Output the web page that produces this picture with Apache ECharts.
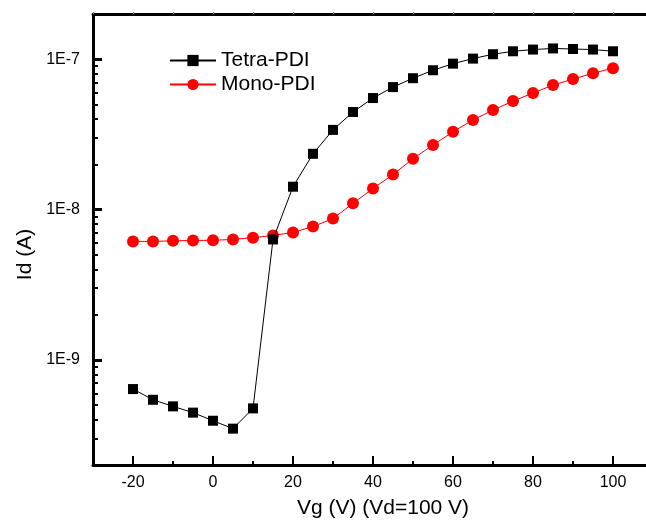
<!DOCTYPE html>
<html>
<head>
<meta charset="utf-8">
<script src="https://cdn.jsdelivr.net/npm/echarts@6/dist/echarts.min.js"></script>
<style>html,body{margin:0;padding:0;background:#fff;}#c{width:646px;height:521px;}</style>
</head>
<body>
<div id="c"></div>
<script>
var vg = [-20,-15,-10,-5,0,5,10,15,20,25,30,35,40,45,50,55,60,65,70,75,80,85,90,95,100];
var tetraPDI = [6.4e-10,5.43e-10,4.91e-10,4.46e-10,3.94e-10,3.49e-10,4.76e-10,6.33e-9,1.42e-8,2.35e-8,3.39e-8,4.46e-8,5.52e-8,6.53e-8,7.48e-8,8.45e-8,9.35e-8,1.01e-7,1.08e-7,1.13e-7,1.16e-7,1.18e-7,1.17e-7,1.16e-7,1.13e-7];
var monoPDI = [6.14e-9,6.14e-9,6.2e-9,6.23e-9,6.25e-9,6.33e-9,6.5e-9,6.73e-9,7.05e-9,7.71e-9,8.71e-9,1.10e-8,1.38e-8,1.71e-8,2.18e-8,2.69e-8,3.29e-8,3.95e-8,4.59e-8,5.27e-8,5.96e-8,6.73e-8,7.38e-8,8.08e-8,8.71e-8];
var xTickLabels = [-20,0,20,40,60,80,100];
var yTickLabels = [1e-9,1e-8,1e-7];
var yMinorTicks = [];
[1e-10,1e-9,1e-8,1e-7].forEach(function(d){
  for (var m=2;m<=9;m++){ var v=m*d; if (v>=2e-10*0.999 && v<=2e-7*1.001) yMinorTicks.push(+v.toPrecision(3)); }
});

function pairs(xs, ys){ return xs.map(function(x,i){return [x, ys[i]];}); }

var font = 'Liberation Sans, Arial, sans-serif';
var chart = echarts.init(document.getElementById('c'));
chart.setOption({
  animation:false,
  backgroundColor:'#fff',
  grid:{left:93, top:14, bottom:56, width:580, containLabel:false, outerBoundsMode:'none'},
  legend:{
    orient:'vertical', left:164, top:45, itemWidth:46, itemHeight:14, itemGap:3,
    textStyle:{fontFamily:font, fontSize:21, color:'#000'},
    data:['Tetra-PDI','Mono-PDI']
  },
  xAxis:[
    {type:'value', position:'bottom', min:-30, max:115, interval:10,
     name:'Vg (V) (Vd=100 V)', nameLocation:'middle', nameGap:33,
     nameTextStyle:{fontFamily:font, fontSize:21, color:'#000'},
     axisLine:{show:true, onZero:false, lineStyle:{color:'#000', width:3}},
     axisTick:{show:true, inside:true, length:9, customValues:xTickLabels, lineStyle:{color:'#000', width:2}},
     axisLabel:{customValues:xTickLabels, margin:10, fontFamily:font, fontSize:16, color:'#000'},
     splitLine:{show:false}},
    {type:'value', position:'bottom', min:-30, max:115, interval:10,
     axisLine:{show:false, onZero:false}, axisLabel:{show:false}, splitLine:{show:false},
     axisTick:{show:true, inside:true, length:4, lineStyle:{color:'#000', width:2}}},
    {type:'value', position:'top', min:-30, max:115, interval:10,
     axisLine:{show:true, onZero:false, lineStyle:{color:'#000', width:3}}, axisLabel:{show:false}, splitLine:{show:false},
     axisTick:{show:true, inside:false, length:2, lineStyle:{color:'#888', width:1}}}
  ],
  yAxis:[
    {type:'log', logBase:10, position:'left', min:2e-10, max:2e-7,
     name:'Id (A)', nameLocation:'middle', nameGap:56,
     nameTextStyle:{fontFamily:font, fontSize:21, color:'#000', padding:[0,0,0,-30]},
     axisLine:{show:true, onZero:false, lineStyle:{color:'#000', width:3}},
     axisTick:{show:true, inside:true, length:9, customValues:yTickLabels, lineStyle:{color:'#000', width:3}},
     axisLabel:{customValues:yTickLabels, margin:13, fontFamily:font, fontSize:16, color:'#000',
       formatter:function(v){ var e=Math.round(Math.log10(v)); return '1E'+e; }},
     splitLine:{show:false}},
    {type:'log', logBase:10, position:'left', min:2e-10, max:2e-7,
     axisLine:{show:false, onZero:false}, axisLabel:{show:false}, splitLine:{show:false},
     axisTick:{show:true, inside:true, length:5, customValues:yMinorTicks, lineStyle:{color:'#000', width:2}}}
  ],
  series:[
    {name:'Tetra-PDI', type:'line', xAxisIndex:0, yAxisIndex:0, data:pairs(vg, tetraPDI),
     symbol:'rect', symbolSize:10, showAllSymbol:true,
     itemStyle:{color:'#000'}, lineStyle:{color:'#000', width:1}, z:3},
    {name:'Mono-PDI', type:'line', xAxisIndex:0, yAxisIndex:0, data:pairs(vg, monoPDI),
     symbol:'circle', symbolSize:12, showAllSymbol:true,
     itemStyle:{color:'#ff0000'}, lineStyle:{color:'#ff0000', width:1}, z:2}
  ]
});
</script>
</body>
</html>
